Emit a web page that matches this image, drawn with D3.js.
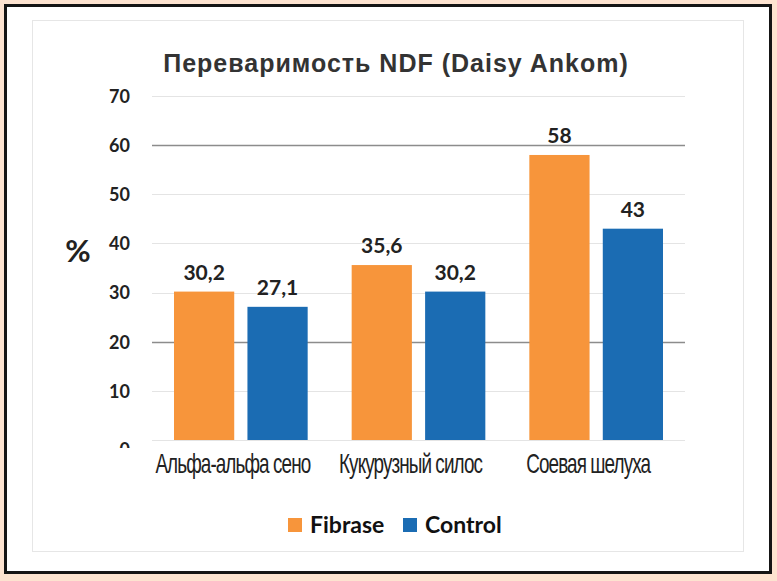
<!DOCTYPE html>
<html>
<head>
<meta charset="utf-8">
<script src="https://cdn.jsdelivr.net/npm/d3@7"></script>
<style>
  html, body { margin: 0; padding: 0; background: #fde3d0; }
  svg { display: block; }
</style>
</head>
<body>
<svg id="chart" width="777" height="581"></svg>
<script>
"use strict";

const categories = ['Альфа-альфа сено', 'Кукурузный силос', 'Соевая шелуха'];
const series = ['Fibrase', 'Control'];
const fibrase = [30.2, 35.6, 58];
const control = [27.1, 30.2, 43];
const yTicks = [0, 10, 20, 30, 40, 50, 60, 70];
const title = 'Переваримость NDF (Daisy Ankom)';

const colour = d3.scaleOrdinal()
  .domain(series)
  .range(['#f7953b', '#1b6cb3']);

const rows = categories.map((c, i) => ({
  category: c,
  values: [
    { key: 'Fibrase', value: fibrase[i] },
    { key: 'Control', value: control[i] }
  ]
}));

const svg = d3.select('#chart');

// white card + black frame
svg.append('rect')
  .attr('x', 5.5).attr('y', 5.5)
  .attr('width', 765).attr('height', 567)
  .attr('fill', '#fff')
  .attr('stroke', '#151515')
  .attr('stroke-width', 3);

// inner panel border
svg.append('rect')
  .attr('x', 32.5).attr('y', 20.5)
  .attr('width', 711).attr('height', 531)
  .attr('fill', '#fff')
  .attr('stroke', '#e6e6e6')
  .attr('stroke-width', 1);

const plotLeft = 152, plotRight = 685, plotTop = 96, plotBottom = 440;

const x0 = d3.scaleBand()
  .domain(categories)
  .range([plotLeft, plotRight])
  .padding(0);

const x1 = d3.scaleBand()
  .domain(series)
  .range([22, x0.bandwidth() - 22])
  .paddingInner(0.18)
  .paddingOuter(0);

const y = d3.scaleLinear()
  .domain([0, 70])
  .range([plotBottom, plotTop]);

// title
svg.append('text')
  .attr('x', 396)
  .attr('y', 72)
  .attr('text-anchor', 'middle')
  .attr('font-family', '"Liberation Sans", Arial, sans-serif')
  .attr('font-weight', 'bold')
  .attr('font-size', 25)
  .attr('letter-spacing', 1)
  .attr('fill', '#333')
  .text(title);

// gridlines
const darkGrid = [20, 60];
svg.append('g')
  .selectAll('line')
  .data(yTicks)
  .enter().append('line')
    .attr('x1', plotLeft)
    .attr('x2', plotRight)
    .attr('y1', d => Math.round(y(d)) + 0.5)
    .attr('y2', d => Math.round(y(d)) + 0.5)
    .attr('stroke', d => darkGrid.includes(d) ? '#8c8c8c' : '#e4e4e4')
    .attr('stroke-width', d => darkGrid.includes(d) ? 1.6 : 1);

// y axis labels (the 0 is cut off in the original)
const clip = svg.append('clipPath').attr('id', 'yclip');
clip.append('rect').attr('x', -200).attr('y', 0).attr('width', 400).attr('height', 448);

const yAxis = svg.append('g')
  .attr('transform', `translate(${plotLeft - 22},0)`)
  .attr('clip-path', 'url(#yclip)')
  .call(d3.axisLeft(y).tickValues(yTicks).tickSize(0).tickPadding(0));
yAxis.select('.domain').remove();
yAxis.selectAll('text')
  .attr('font-family', 'Lato, "Open Sans", sans-serif')
  .attr('font-weight', 'bold')
  .attr('font-size', 18)
  .attr('fill', '#222')
  .attr('dy', d => d === 0 ? '0.85em' : '0.35em');

// "%" label
svg.append('text')
  .attr('x', 78)
  .attr('y', 262)
  .attr('text-anchor', 'middle')
  .attr('font-family', 'Lato, "Open Sans", sans-serif')
  .attr('font-weight', 'bold')
  .attr('font-size', 31)
  .attr('fill', '#222')
  .text('%');

// bars
const groups = svg.append('g')
  .selectAll('g')
  .data(rows)
  .enter().append('g')
    .attr('transform', d => `translate(${x0(d.category)},0)`);

groups.selectAll('rect')
  .data(d => d.values)
  .enter().append('rect')
    .attr('x', d => x1(d.key))
    .attr('y', d => y(d.value))
    .attr('width', x1.bandwidth())
    .attr('height', d => y(0) - y(d.value))
    .attr('fill', d => colour(d.key));

groups.selectAll('text')
  .data(d => d.values)
  .enter().append('text')
    .attr('x', d => x1(d.key) + x1.bandwidth() / 2)
    .attr('y', d => y(d.value) - 12)
    .attr('text-anchor', 'middle')
    .attr('font-family', 'Lato, "Open Sans", sans-serif')
    .attr('font-weight', 'bold')
    .attr('font-size', 21)
    .attr('fill', '#222')
    .text(d => String(d.value).replace('.', ','));

// category labels, horizontally squeezed like the original
svg.append('g')
  .selectAll('text')
  .data(categories)
  .enter().append('text')
    .attr('transform', d => `translate(${x0(d) + x0.bandwidth() / 2 - 8},473) scale(0.7,1)`)
    .attr('text-anchor', 'middle')
    .attr('font-family', '"Liberation Sans", Arial, sans-serif')
    .attr('font-size', 27)
    .attr('letter-spacing', -1.3)
    .attr('fill', '#222')
    .text(d => d);

// legend
const legend = svg.append('g')
  .attr('transform', 'translate(288,518)');

const legendX = d3.scaleOrdinal().domain(series).range([0, 115]);

const item = legend.selectAll('g')
  .data(series)
  .enter().append('g')
    .attr('transform', d => `translate(${legendX(d)},0)`);

item.append('rect')
  .attr('width', 14)
  .attr('height', 14)
  .attr('fill', d => colour(d));

item.append('text')
  .attr('x', 22)
  .attr('y', 15)
  .attr('font-family', 'Lato, "Open Sans", sans-serif')
  .attr('font-weight', 'bold')
  .attr('font-size', 23)
  .attr('fill', '#111')
  .text(d => d);
</script>
</body>
</html>
